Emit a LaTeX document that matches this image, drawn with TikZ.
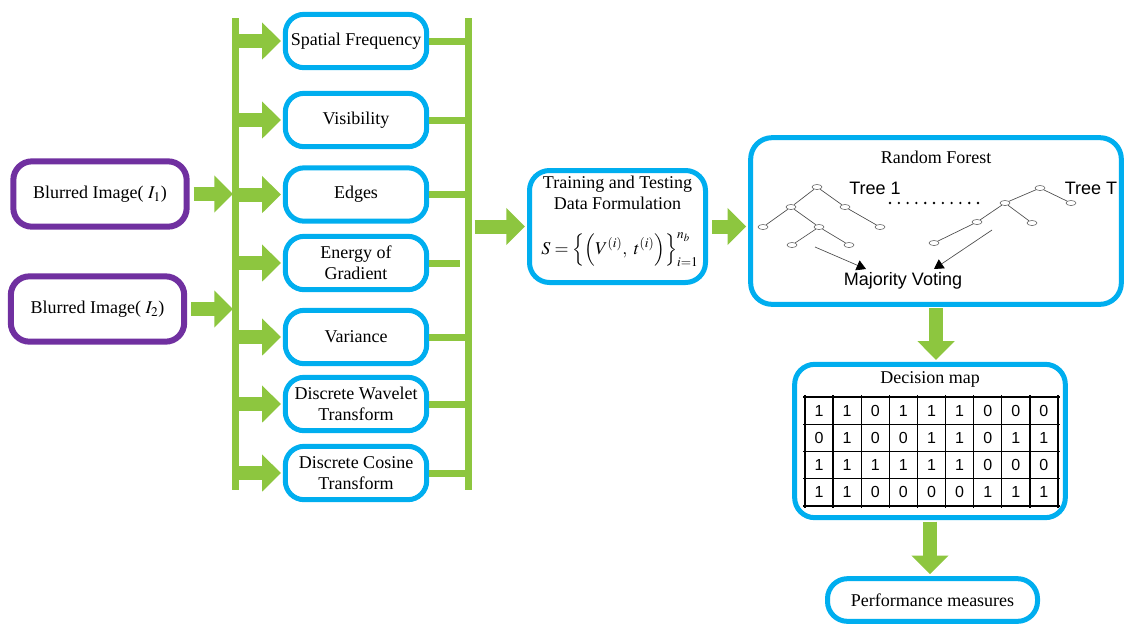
\documentclass[tikz,border=0pt]{standalone}
\usepackage{amsmath}
\usepackage{mathptmx}
\usepackage{fontspec}
\setmainfont{Liberation Serif}
\newfontfamily\arialfont{Liberation Sans}
\usepackage{tikz}
\usetikzlibrary{arrows.meta}
\usetikzlibrary{shapes.geometric, positioning}
\definecolor{fgreen}{RGB}{141,198,63}
\definecolor{fblue}{RGB}{0,174,239}
\definecolor{fpurple}{RGB}{112,48,160}

\begin{document}
\begin{tikzpicture}[x=0.75pt, y=-0.75pt]
\tikzset{font=\fontsize{13.5}{16}\selectfont}
\tikzset{inbox/.style={draw=fpurple, line width=4.5pt, rounded corners=14pt, fill=white, minimum width=130pt, minimum height=49pt, inner sep=0pt}}
\tikzset{featbox/.style={draw=fblue, line width=3.75pt, rounded corners=14pt, fill=white, minimum width=106pt, minimum height=40pt, align=center, inner sep=0pt}}
\tikzset{stagebox/.style={draw=fblue, line width=3.75pt, rounded corners=15pt, fill=white, align=center, inner sep=0pt}}
\tikzset{garrow/.style={draw=fgreen, line width=10.5pt, shorten <=3pt, shorten >=1.5pt, -{Triangle[width=27pt,length=14pt]}}}
\tikzset{gbus/.style={draw=fgreen, line width=5.25pt}}
\tikzset{tnode/.style={ellipse, draw=gray!70!black, line width=0.4pt, minimum width=7.5pt, minimum height=3.8pt, inner sep=0pt}}
\tikzset{tedge/.style={draw=gray!60!black, line width=0.5pt}}
\tikzset{vote/.style={tedge, -{Triangle[width=8pt,length=7pt,black]}}}
\tikzset{sans/.style={font=\arialfont\fontsize{13.5}{16}\selectfont}}
\tikzset{bit/.style={font=\arialfont\fontsize{12}{14}\selectfont}}
\useasboundingbox (0,0) rectangle (1129,626);

% buses
\coordinate (lbT) at (235,18);
\coordinate (lbB) at (235,490);
\coordinate (rbT) at (468,18);
\coordinate (rbB) at (468,490);
\draw[gbus] (lbT) -- (lbB);
\draw[gbus] (rbT) -- (rbB);

% inputs
\node[inbox] (img1) at (100,194) {Blurred Image( $I_1$)};
\node[inbox] (img2) at (97.5,309) {Blurred Image( $I_2$)};

% features
\node[featbox] (sf) at (356,41) {Spatial Frequency};
\node[featbox] (vis) at (356,120) {Visibility};
\node[featbox] (edg) at (356,194.5) {Edges};
\node[featbox] (eog) at (356,263) {Energy of\\Gradient};
\node[featbox] (var) at (356,337) {Variance};
\node[featbox] (dwt) at (356,404) {Discrete Wavelet\\Transform};
\node[featbox] (dct) at (356,473) {Discrete Cosine\\Transform};

\draw[garrow] (img1.east) -- (img1.east -| lbT);
\draw[garrow] (img2.east) -- (img2.east -| lbT);
\foreach \f in {sf, vis, edg, eog, var, dwt, dct}
  \draw[garrow] (\f.west -| lbT) -- (\f.west);
\foreach \f in {sf, vis, edg, var, dwt, dct}
  \draw[gbus] (\f.east) -- (\f.east -| rbT);
\coordinate (eogend) at (460,263);
\draw[gbus] (eog.east) -- (eogend);

% training data
\node[stagebox, minimum width=132pt, minimum height=84pt] (train) at (617.5,226.5) {};
\node[align=center, inner sep=1pt] (traintitle) at (617.5,193) {Training and Testing\\Data Formulation};
\node[inner sep=1pt] (trainform) at (620,250) {$S=\left\{\left(V^{(i)},\ t^{(i)}\right)\right\}_{i=1}^{n_b}$};
\draw[garrow, shorten <=5pt] (train.west -| rbT) -- (train.west);

% random forest
\node[stagebox, minimum width=278pt, minimum height=125pt, rounded corners=16pt] (rf) at (936,221) {};
\node (rftitle) at (936,157) {Random Forest};
\draw[garrow] (train.east) -- (train.east -| rf.west);

\node[tnode] (a0) at (817,187) {};
\node[tnode] (a1) at (791,207) {};
\node[tnode] (a2) at (845,207) {};
\node[tnode] (a3) at (763,227) {};
\node[tnode] (a4) at (819,227) {};
\node[tnode] (a5) at (880,227) {};
\node[tnode] (a6) at (792,245) {};
\node[tnode] (a7) at (849,245) {};
\foreach \u/\v in {a0/a1, a0/a2, a1/a3, a1/a4, a2/a5, a4/a6, a4/a7}
  \draw[tedge] (\u) -- (\v);
\node[tnode] (b0) at (1040,188) {};
\node[tnode] (b1) at (1005,203) {};
\node[tnode] (b2) at (1071,203) {};
\node[tnode] (b3) at (977,222) {};
\node[tnode] (b4) at (1032,223) {};
\node[tnode] (b5) at (934,243) {};
\foreach \u/\v in {b0/b1, b0/b2, b1/b3, b1/b4, b3/b5}
  \draw[tedge] (\u) -- (\v);
\node[sans] (tree1) at (875,188) {Tree 1};
\node[sans] (treeT) at (1091,188) {Tree T};
\foreach \i in {0,...,10}
  \fill (890+\i*8.8,203) circle (1.3);
\node[sans] (vote) at (903,281) {Majority Voting};
\coordinate (v1s) at (815,247);
\coordinate (v1e) at (866,269);
\coordinate (v2s) at (992,230);
\coordinate (v2e) at (934,269);
\draw[vote] (v1s) -- (v1e);
\draw[vote] (v2s) -- (v2e);

% decision map
\node[stagebox, minimum width=203pt, minimum height=115pt] (dm) at (930,441) {};
\node (dmtitle) at (930,379) {Decision map};
\draw[garrow, shorten <=1pt] (rf.south) -- (rf.south |- dm.north);
\foreach \i in {0,...,9}
  \draw[line width=1pt] (805+\i*28.11,395) -- (805+\i*28.11,508);
\foreach \j in {0,...,4}
  \draw[line width=1pt] (803,397+\j*27.25) -- (1060,397+\j*27.25);
\foreach \row [count=\r] in {{1,1,0,1,1,1,0,0,0},{0,1,0,0,1,1,0,1,1},{1,1,1,1,1,1,0,0,0},{1,1,0,0,0,0,1,1,1}}
  \foreach \v [count=\c] in \row
    \node[bit] (d\r\c) at ({805+(\c-0.5)*28.11},{397+(\r-0.5)*27.25}) {\v};

% performance
\node[stagebox, minimum width=157.5pt, minimum height=32pt] (perf) at (932.5,600) {Performance measures};
\draw[garrow, shorten <=1pt] (dm.south) -- (dm.south |- perf.north);
\end{tikzpicture}
\end{document}
